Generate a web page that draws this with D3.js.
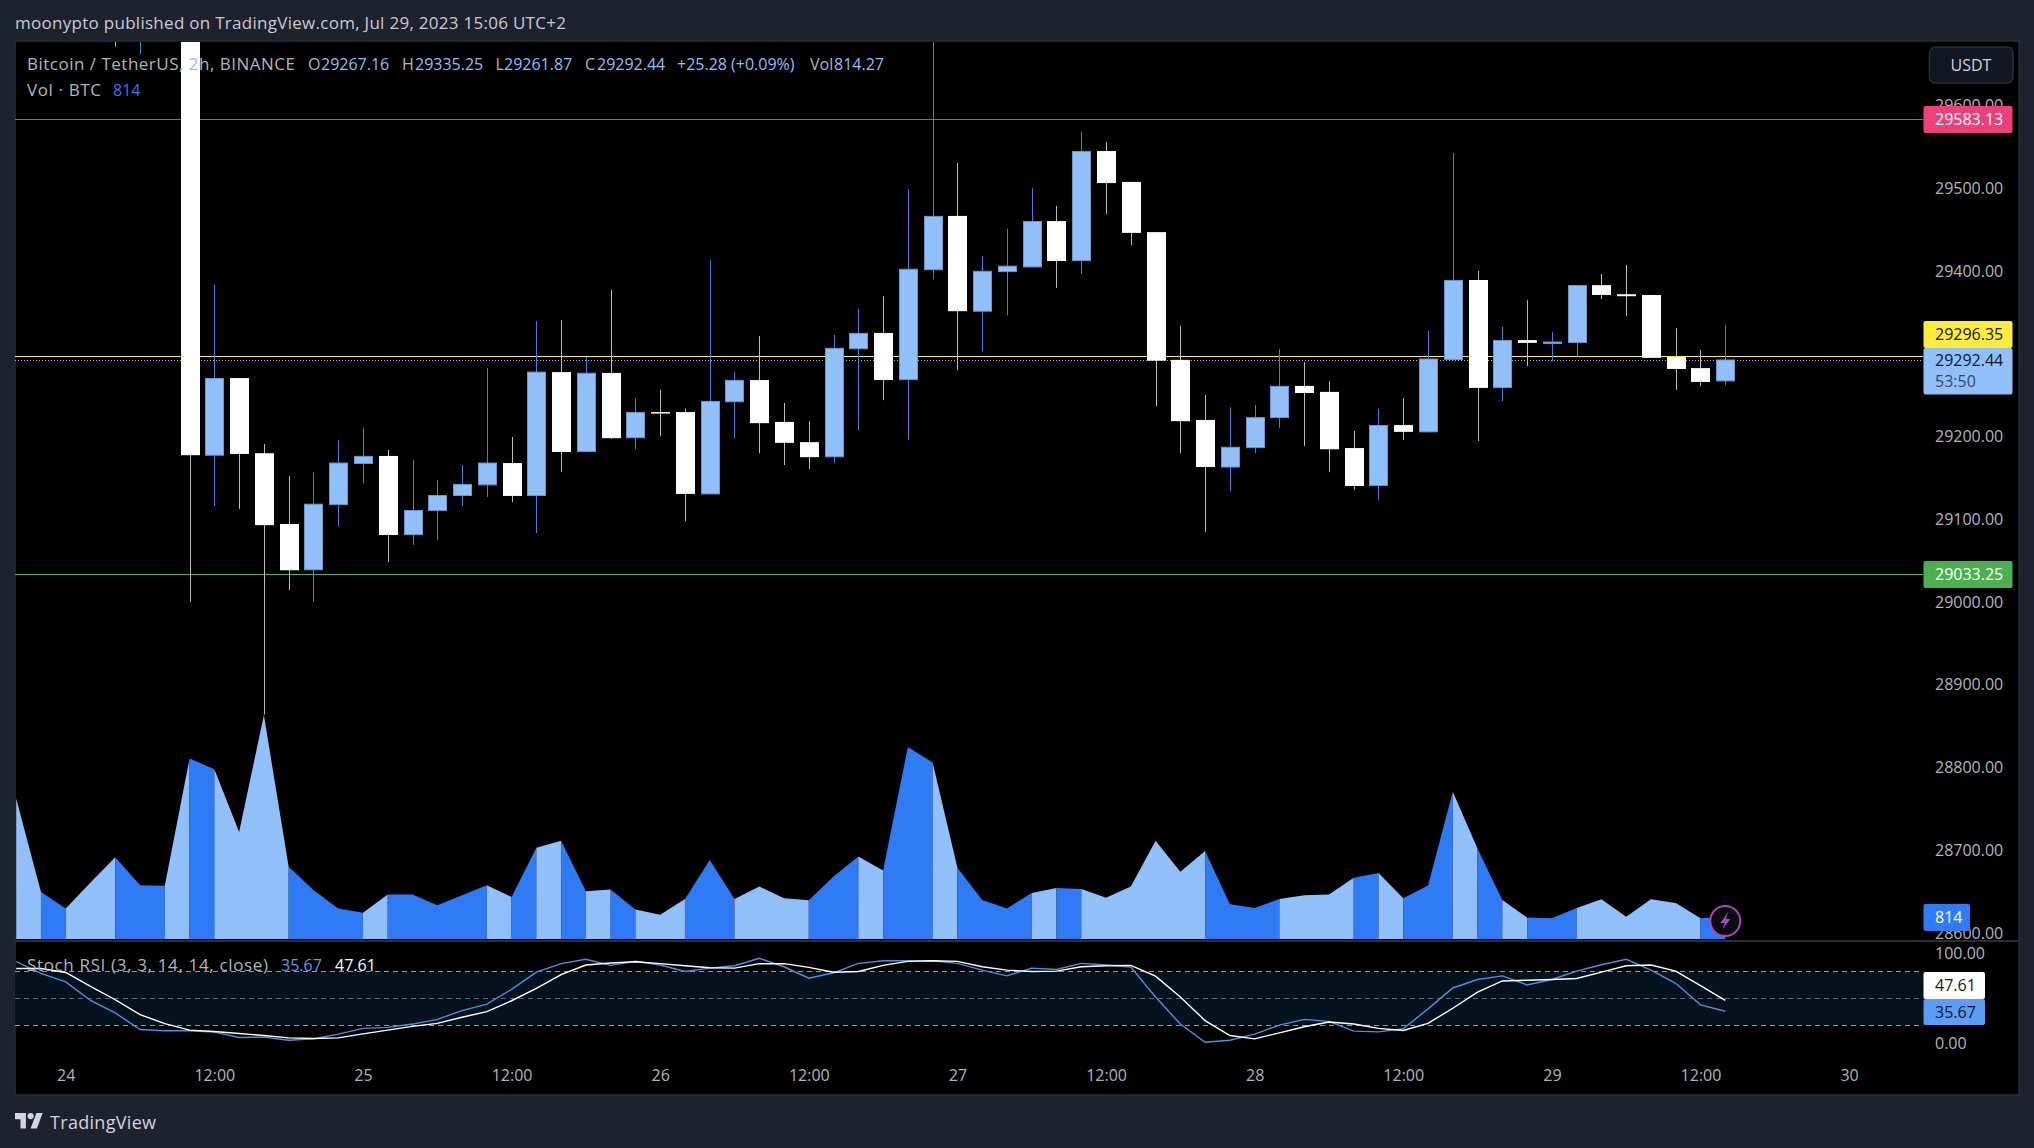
<!DOCTYPE html>
<html>
<head>
<meta charset="utf-8">
<script src="https://d3js.org/d3.v7.min.js"></script>
<style>
html, body { margin: 0; padding: 0; background: #1e222d; }
svg { display: block; }
text { font-family: "Open Sans", sans-serif; }
</style>
</head>
<body>
<div id="chart"></div>
<script>
// bars run from Jul 23 22:00 to Jul 29 14:00, one every 2h (candles before index 7 are above the visible range)
var opens = [30060, 30050, 30000, 30040, 29990, 29760, 29815, 29850, 29177.4, 29270.6,
	29179.8, 29094.3, 29038.9, 29117.7, 29167.4, 29176.5, 29081.4, 29110.6, 29128.7, 29141.6,
	29167.9, 29128.7, 29277.8, 29181.8, 29276.8, 29198.5, 29229.5, 29229.5, 29130.6, 29242,
	29268.2, 29217.6, 29193.2, 29175.5, 29306, 29325.1, 29268.7, 29401.5, 29466.5, 29351.4,
	29399.2, 29404.9, 29460.3, 29412.5, 29544.9, 29507.6, 29446.9, 29292.6, 29220, 29163.1,
	29186.5, 29222.8, 29261.1, 29253.9, 29186, 29140.7, 29213.8, 29205.6, 29293.1, 29389.1,
	29259.1, 29316.5, 29313.1, 29313.6, 29382.9, 29371.9, 29371, 29296, 29282.6, 29267.16]
var highs = [30090, 30070, 30060, 30050, 30000, 29840, 29860, 29860, 29383.4, 29270.6,
	29190.8, 29152.1, 29156.9, 29195.6, 29210.4, 29183.7, 29171.7, 29147.4, 29165.5, 29282.6,
	29199.4, 29339.4, 29340.9, 29296, 29377.2, 29245.8, 29256.3, 29233.8, 29413, 29277.8,
	29321.3, 29240.5, 29218.5, 29322.7, 29354.2, 29369.5, 29499, 29700, 29530.5, 29418.3,
	29450.8, 29500.4, 29478.5, 29568.3, 29555.9, 29507.6, 29446.9, 29333.7, 29250.1, 29235.3,
	29238.1, 29305.5, 29289.7, 29266.8, 29206.6, 29233.4, 29246.3, 29327.5, 29542.5, 29400.1,
	29332.3, 29364.7, 29326, 29382.4, 29396.3, 29407.3, 29371, 29330.8, 29304.5, 29335.25]
var lows = [30020, 29990, 29980, 29970, 29671, 29661.5, 29790, 29000.2, 29115.8, 29112.5,
	28864, 29014.5, 29000.2, 29091, 29143.5, 29048.4, 29069, 29074.7, 29115.8, 29126.8,
	29120.6, 29083.3, 29156.9, 29181.8, 29197, 29184.6, 29200.4, 29097.6, 29130.6, 29198,
	29179.8, 29165.5, 29160.7, 29167.4, 29208, 29243.9, 29195.6, 29390, 29280.2, 29302.6,
	29346.6, 29404.9, 29379.6, 29396.3, 29468.9, 29431.2, 29236.7, 29179.8, 29084.8, 29134,
	29179.8, 29210.4, 29188.4, 29156.9, 29135.4, 29123, 29195.6, 29205.6, 29293.1, 29194.6,
	29242.9, 29285, 29290.7, 29296.4, 29366.2, 29345.6, 29295, 29256.3, 29261.1, 29261.87]
var closes = [30050, 30000, 30040, 29990, 29760, 29815, 29850, 29177.4, 29270.1, 29178.9,
	29092.9, 29038.4, 29118.2, 29167.9, 29176, 29081, 29110.6, 29128.7, 29142.1, 29167.9,
	29128.2, 29277.8, 29181.3, 29276.4, 29198, 29229.1, 29228.6, 29130.6, 29242.4, 29267.8,
	29216.1, 29192.3, 29175, 29306.5, 29324.6, 29268.2, 29402, 29466, 29351.4, 29399.6,
	29405.8, 29459.8, 29412, 29544.4, 29506.2, 29446, 29291.6, 29218.5, 29163.1, 29187,
	29222.8, 29260.6, 29252.5, 29184.6, 29140.2, 29213.3, 29205.6, 29293.6, 29388.6, 29258.7,
	29316, 29313.1, 29314.1, 29382.4, 29371, 29369.5, 29295, 29281.6, 29265.9, 29292.44]
var volumes = [5212, 1746, 1135, 2095, 3030, 1995, 1970, 6696, 6297, 3965,
	8305, 2681, 1821, 1135, 973, 1646, 1646, 1247, 1621, 1995,
	1559, 3379, 3641, 1771, 1833, 1097, 898, 1484, 2930, 1484,
	1945, 1509, 1434, 2319, 3055, 2544, 7120, 6547, 2644, 1447,
	1135, 1708, 1895, 1858, 1534, 1945, 3641, 2494, 3267, 1284,
	1147, 1484, 1621, 1646, 2270, 2444, 1509, 1983, 5462, 3342,
	1447, 798, 773, 1147, 1471, 823, 1471, 1334, 773, 814]
var stochK = [90.5, 77.5, 68.1, 47.6, 33.8, 15.5, 14.1, 14.1, 12.6, 6.6,
	7, 3.6, 5.1, 10.3, 16.7, 17.8, 21.5, 26.7, 36.4, 43.5,
	59.9, 78.9, 88.3, 93.1, 86.4, 90.9, 86.8, 79.7, 83.4, 86,
	94.2, 84.9, 72.2, 78.2, 88.6, 91.6, 91.6, 91.6, 88.6, 81.2,
	74.8, 83.4, 81.9, 88.6, 86.8, 84.5, 51.4, 21.5, 1.4, 3.6,
	10.3, 20.4, 26.7, 24.5, 13.7, 12.9, 16.3, 38.3, 61.4, 70.8,
	74.8, 64.8, 70.8, 80.1, 87.1, 93.1, 81.2, 66.6, 42.8, 35.67]
var stochD = [83, 83, 78.6, 63.3, 48.4, 32, 21.9, 14.8, 13.3, 11.1,
	8.8, 6.2, 5.5, 6.2, 10.7, 14.8, 18.9, 22.3, 29, 35.3,
	47.3, 61, 76.3, 86.8, 89, 90.5, 88.3, 86, 83.8, 83.4,
	88.3, 88.3, 84.2, 78.9, 79.7, 86.4, 90.9, 91.6, 90.9, 84.9,
	81.2, 79.7, 80.1, 84.9, 86, 86.4, 74.5, 51.4, 25.3, 8.8,
	5.1, 11.8, 18.5, 23.8, 21.5, 16.7, 14.4, 22.3, 39, 56.9,
	69.2, 70, 70.8, 71.9, 78.9, 86, 86.8, 80.1, 64, 47.61]

var priceTicks = [28600, 28700, 28800, 28900, 29000, 29100, 29200, 29400, 29500, 29600]
var stochTicks = [0, 100]
var stochBands = [20, 50, 80]
var timeTickBars = [2, 8, 14, 20, 26, 32, 38, 44, 50, 56, 62, 68, 74]
var timeTickLabels = ['24', '12:00', '25', '12:00', '26', '12:00', '27', '12:00', '28', '12:00', '29', '12:00', '30']

var width = 2034, height = 1148
var paneLeft = 15, paneRight = 2019, plotRight = 1923.5
var paneTop = 41, priceBottom = 939, stochTop = 942, paneBottom = 1095

var bodyWidth = 19
var lightBlue = '#90bff9', strongBlue = '#2f7af5', stochBlue = '#5b9cf6'
var axisText = '#b2b5be'

var svg = d3.select('#chart').append('svg')
	.attr('width', width)
	.attr('height', height)

var x = d3.scaleLinear().domain([0, 74]).range([16.2, 1849.1])
var y = d3.scaleLinear().domain([29033.25, 29583.13]).range([574.5, 119.4])
var yVol = d3.scaleLinear().domain([0, 8305]).range([939, 715])
var yStoch = d3.scaleLinear().domain([0, 100]).range([1043.5, 953.1])

var bars = d3.range(closes.length)
function isUp(i) { return closes[i] >= opens[i] }
function crisp(v) { return Math.round(v) + 0.5 }

// background
svg.append('rect').attr('x', paneLeft).attr('y', paneTop)
	.attr('width', paneRight - paneLeft).attr('height', paneBottom - paneTop)
	.attr('fill', '#000').attr('stroke', '#2a2e39').attr('stroke-width', 1.5)

svg.append('defs').append('clipPath').attr('id', 'price-clip')
	.append('rect').attr('x', paneLeft).attr('y', paneTop + 1)
	.attr('width', plotRight - paneLeft).attr('height', priceBottom - paneTop - 1)

var pricePane = svg.append('g').attr('clip-path', 'url(#price-clip)')

// horizontal levels sit under the candles
var levels = [
	{ value: 29583.13, color: '#f23f72' },
	{ value: 29296.35, color: '#ffeb3b' },
	{ value: 29033.25, color: '#4caf50' }
]
pricePane.selectAll('.level').data(levels).enter().append('line')
	.attr('x1', paneLeft).attr('x2', plotRight)
	.attr('y1', function(d) { return Math.floor(y(d.value)) + 0.5 })
	.attr('y2', function(d) { return Math.floor(y(d.value)) + 0.5 })
	.attr('stroke', function(d) { return d.color })
	.attr('stroke-width', 1)

pricePane.append('line')
	.attr('x1', paneLeft).attr('x2', plotRight)
	.attr('y1', crisp(y(closes[closes.length - 1]))).attr('y2', crisp(y(closes[closes.length - 1])))
	.attr('stroke', lightBlue).attr('stroke-width', 1).attr('stroke-dasharray', '1 2')

// wicks
pricePane.selectAll('.wick').data(bars).enter().append('line')
	.attr('class', 'wick')
	.attr('x1', function(i) { return crisp(x(i)) })
	.attr('x2', function(i) { return crisp(x(i)) })
	.attr('y1', function(i) { return y(highs[i]) })
	.attr('y2', function(i) { return y(lows[i]) })
	.attr('stroke', function(i) { return isUp(i) ? '#3f7fe0' : '#bdbdbd' })
	.attr('stroke-width', 1)

// bodies
pricePane.selectAll('.body').data(bars).enter().append('rect')
	.attr('class', 'body')
	.attr('x', function(i) { return crisp(x(i)) - (isUp(i) ? bodyWidth - 1 : bodyWidth) / 2 })
	.attr('width', function(i) { return isUp(i) ? bodyWidth - 1 : bodyWidth })
	.attr('y', function(i) { return y(Math.max(opens[i], closes[i])) })
	.attr('height', function(i) { return Math.max(1.5, Math.abs(y(opens[i]) - y(closes[i]))) })
	.attr('fill', function(i) { return isUp(i) ? lightBlue : '#fff' })
	.attr('stroke', function(i) { return isUp(i) ? '#6f96cc' : 'none' })
	.attr('stroke-width', 1)

// volume, one strip per run of same coloured bar gaps, coloured by the candle each gap leads to
var volRuns = []
bars.slice(1).forEach(function(i) {
	var last = volRuns[volRuns.length - 1]
	if (last && isUp(last[last.length - 1]) == isUp(i)) last.push(i)
	else volRuns.push([i - 1, i])
})
var volArea = d3.area()
	.x(function(i) { return x(i) })
	.y0(yVol(0))
	.y1(function(i) { return yVol(volumes[i]) })

pricePane.selectAll('.vol').data(volRuns).enter().append('path')
	.attr('class', 'vol')
	.attr('d', function(run) { return volArea(run) })
	.attr('fill', function(run) { return isUp(run[run.length - 1]) ? strongBlue : lightBlue })

// stoch pane
svg.append('line').attr('x1', paneLeft).attr('x2', paneRight)
	.attr('y1', stochTop - 1).attr('y2', stochTop - 1)
	.attr('stroke', '#2a2e39').attr('stroke-width', 2)

svg.append('rect').attr('x', paneLeft).attr('width', plotRight - paneLeft)
	.attr('y', yStoch(80)).attr('height', yStoch(20) - yStoch(80))
	.attr('fill', '#03121c')

svg.selectAll('.band').data(stochBands).enter().append('line')
	.attr('x1', paneLeft).attr('x2', plotRight)
	.attr('y1', function(d) { return crisp(yStoch(d)) })
	.attr('y2', function(d) { return crisp(yStoch(d)) })
	.attr('stroke', function(d) { return d == 50 ? '#62666f' : '#9598a1' })
	.attr('stroke-width', 1)
	.attr('stroke-dasharray', '5 4')

function stochLine(values) {
	return d3.line()
		.x(function(i) { return x(i) })
		.y(function(i) { return yStoch(values[i]) })(bars)
}
svg.append('path').attr('d', stochLine(stochK)).attr('fill', 'none')
	.attr('stroke', '#4a90e8').attr('stroke-width', 1.4)
svg.append('path').attr('d', stochLine(stochD)).attr('fill', 'none')
	.attr('stroke', '#fff').attr('stroke-width', 1.4)

// axes
function styleAxis(g) {
	g.select('.domain').remove()
	g.selectAll('text').attr('fill', axisText).style('font-size', '16px').style('font-family', '"Open Sans", sans-serif')
}

svg.append('g').attr('transform', 'translate(1935,0)')
	.call(d3.axisRight(y).tickValues(priceTicks).tickSize(0).tickPadding(0).tickFormat(d3.format('.2f')))
	.call(styleAxis)

svg.append('g').attr('transform', 'translate(1935,0)')
	.call(d3.axisRight(yStoch).tickValues(stochTicks).tickSize(0).tickPadding(0).tickFormat(d3.format('.2f')))
	.call(styleAxis)

svg.append('g').attr('transform', 'translate(0,1069.5)')
	.call(d3.axisBottom(x).tickValues(timeTickBars).tickSize(0).tickPadding(0)
		.tickFormat(function(d, i) { return timeTickLabels[i] }))
	.call(styleAxis)

// price tags
function tag(yTop, yBot, right, fill) {
	svg.append('rect').attr('x', 1923.5).attr('y', yTop)
		.attr('width', right - 1923.5).attr('height', yBot - yTop)
		.attr('rx', 2).attr('fill', fill)
}
function tagText(str, cy, fill) {
	svg.append('text').attr('x', 1935).attr('y', cy).attr('dy', '0.35em')
		.attr('fill', fill).style('font-size', '16px').text(str)
}

tag(106, 133, 2012.5, '#ef3f7a')
tagText('29583.13', y(29583.13), '#fff')
tag(321, 348, 2012.5, '#ffeb3b')
tagText('29296.35', 334.5, '#131722')
tag(348, 394.5, 2012.5, lightBlue)
tagText('29292.44', 360.5, '#131722')
tagText('53:50', 381.5, '#3a4a60')
tag(561, 588, 2012.5, '#4caf50')
tagText('29033.25', 574.5, '#fff')
tag(904, 931, 1970, strongBlue)
tagText('814', 917.5, '#fff')
tag(972, 999, 1985, '#ffffff')
tagText('47.61', 985.5, '#131722')
tag(999, 1025, 1985, stochBlue)
tagText('35.67', 1012, '#131722')

// USDT button
svg.append('rect').attr('x', 1929.5).attr('y', 47).attr('width', 83.5).attr('height', 36)
	.attr('rx', 6).attr('fill', '#131722').attr('stroke', '#2a2e39').attr('stroke-width', 1.5)
svg.append('text').attr('x', 1971).attr('y', 65).attr('dy', '0.35em').attr('text-anchor', 'middle')
	.attr('fill', '#d1d4dc').style('font-size', '16px').text('USDT')

// bar replay icon
var icon = svg.append('g').attr('transform', 'translate(' + x(69) + ',921)')
icon.append('circle').attr('r', 15).attr('fill', '#0a0a0f').attr('stroke', '#ab47bc').attr('stroke-width', 2)
icon.append('path').attr('d', 'M3,-9 L-5,2 L-0.5,2 L-3,9 L5,-2 L0.5,-2 Z').attr('fill', '#ab47bc')

// header and legend
function legend(str, lx, ly, fill, fitWidth) {
	var t = svg.append('text').attr('x', lx).attr('y', ly).attr('dy', '0.35em')
		.attr('fill', fill).style('font-size', fitWidth ? '17px' : '16px').text(str)
	if (fitWidth) t.attr('textLength', fitWidth).attr('lengthAdjust', 'spacing')
}
legend('moonypto published on TradingView.com, Jul 29, 2023 15:06 UTC+2', 15, 23, '#c8cbd3', 551)
legend('Bitcoin / TetherUS, 2h, BINANCE', 27, 64, axisText, 268)
legend('O', 308, 64, axisText); legend('29267.16', 321, 64, lightBlue)
legend('H', 402, 64, axisText); legend('29335.25', 415, 64, lightBlue)
legend('L', 495.5, 64, axisText); legend('29261.87', 504, 64, lightBlue)
legend('C', 585, 64, axisText); legend('29292.44', 597, 64, lightBlue)
legend('+25.28 (+0.09%)', 677, 64, lightBlue)
legend('Vol', 810, 64, axisText); legend('814.27', 834, 64, lightBlue)
legend('Vol · BTC', 27, 90, axisText, 74); legend('814', 113, 90, strongBlue)

legend('Stoch RSI (3, 3, 14, 14, close)', 27, 965, axisText, 241)
legend('35.67', 281, 965, stochBlue)
legend('47.61', 335, 965, '#fff')

// logo
var logo = svg.append('g').attr('transform', 'translate(15,1113) scale(0.78)').attr('fill', '#d1d4dc')
logo.append('path').attr('d', 'M14 20H7V8H0V0h14v20zM28 20h-8L27.5 0h8L28 20z')
logo.append('circle').attr('cx', 20).attr('cy', 4).attr('r', 4)
svg.append('text').attr('x', 50).attr('y', 1123).attr('dy', '0.35em')
	.attr('fill', '#d1d4dc').style('font-size', '18px').style('font-weight', 500)
	.attr('textLength', 106).attr('lengthAdjust', 'spacing').text('TradingView')
</script>
</body>
</html>
